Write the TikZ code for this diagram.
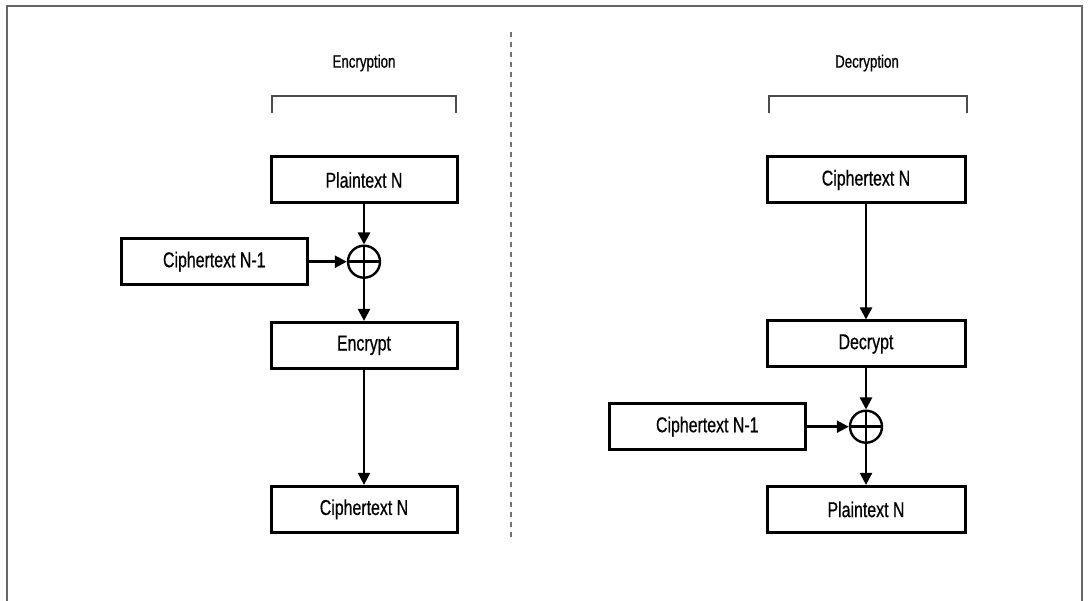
\documentclass[tikz,border=0pt]{standalone}
\usepackage{fontspec}
\setmainfont{Liberation Sans}[FakeStretch=0.74, FakeBold=0.6]
\usetikzlibrary{positioning, arrows.meta}

\begin{document}
\begin{tikzpicture}[
  x=1pt, y=1pt,
  block/.style={draw, line width=3pt, minimum width=186pt, minimum height=46pt, inner sep=0pt, font=\fontsize{21.5}{25}\selectfont},
  xor/.style={draw, circle, line width=2.4pt, minimum size=32pt, inner sep=0pt,
    path picture={\draw[line width=2.4pt] (path picture bounding box.north) -- (path picture bounding box.south)
      (path picture bounding box.west) -- (path picture bounding box.east);}},
  title/.style={font=\fontsize{18}{21}\selectfont},
  arrow/.style={-{Triangle[length=12pt, width=12pt]}, line width=2.4pt},
  bracket/.style={draw=black!70, line width=1.6pt},
  frame/.style={draw=black!60, line width=2pt}
]
  \useasboundingbox (0,0) rectangle (1088,-601);
  \draw[frame] (7,-601) -- (7,-6) -- (1082,-6) -- (1082,-601);
  \draw[draw=black!55, line width=1.2pt, dash pattern=on 5pt off 5pt] (511,-32) -- (511,-542);

  % encryption side
  \node[title] (enctitle) at (364,-63) {Encryption};
  \draw[bracket] (272,-113) -- (272,-96) -- (456,-96) -- (456,-113);
  \node[block] (plain) at (364,-180) {Plaintext N};
  \node[xor, below=40pt of plain] (encxor) {};
  \node[block, left=38pt of encxor] (prevenc) {Ciphertext N-1};
  \node[block, below=42pt of encxor] (encrypt) {Encrypt};
  \node[block, below=115pt of encrypt] (cipher) {Ciphertext N};

  \draw[arrow] (plain) -- (encxor);
  \draw[arrow] (prevenc) -- (encxor);
  \draw[arrow] (encxor) -- (encrypt);
  \draw[arrow] (encrypt) -- (cipher);

  % decryption side
  \node[title] (dectitle) at (867,-63) {Decryption};
  \draw[bracket] (769,-113) -- (769,-96) -- (967,-96) -- (967,-113);
  \node[block, minimum width=198pt] (cipherin) at (866,-180) {Ciphertext N};
  \node[block, minimum width=198pt, below=115pt of cipherin] (decrypt) {Decrypt};
  \node[xor, below=41pt of decrypt] (decxor) {};
  \node[block, minimum width=196pt, left=42pt of decxor] (prevdec) {Ciphertext N-1};
  \node[block, minimum width=198pt, below=41pt of decxor] (plainout) {Plaintext N};

  \draw[arrow] (cipherin) -- (decrypt);
  \draw[arrow] (decrypt) -- (decxor);
  \draw[arrow] (prevdec) -- (decxor);
  \draw[arrow] (decxor) -- (plainout);
\end{tikzpicture}
\end{document}
